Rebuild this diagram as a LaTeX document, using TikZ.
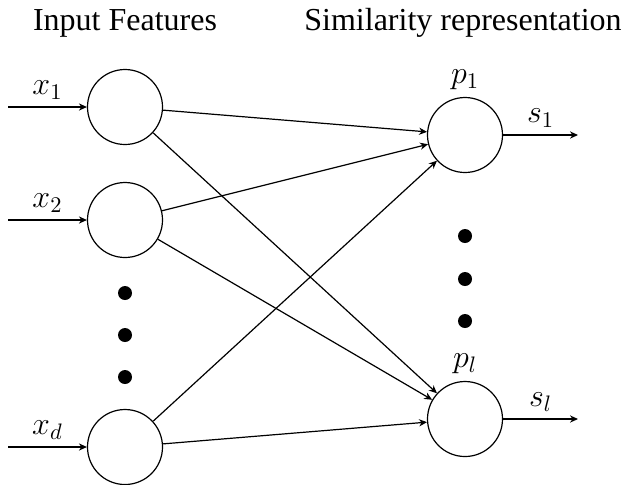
\documentclass[tikz,border=0pt]{standalone}
\usepackage{fix-cm}
\usepackage{fontspec}
\setmainfont{Liberation Serif}
\usetikzlibrary{arrows.meta}
\tikzset{
  neuron/.style={draw, circle, minimum size=37.5pt, inner sep=0pt, line width=0.6pt},
  conn/.style={line width=0.6pt, -{Stealth[length=4pt,width=3.6pt]}},
  bigdot/.style={fill=black, circle, minimum size=7pt, inner sep=0pt},
  title/.style={anchor=base, inner sep=0pt},
  lbl/.style={midway, above}
}
\begin{document}
\begin{tikzpicture}[x=0.5pt, y=-0.5pt, font=\fontsize{16}{19}\selectfont]
\useasboundingbox (0,0) rectangle (625,484);
% titles
\node[title] (t1) at (125,30) {Input Features};
\node[title] (t2) at (463,30) {Similarity representation};
% input neurons
\node[neuron] (x1) at (125,107) {};
\node[neuron] (x2) at (125,220) {};
\node[neuron] (xd) at (125,447) {};
% output neurons
\node[neuron] (p1) at (465,135) {};
\node[neuron] (pl) at (465,419) {};
\node[above] (lp1) at (p1.north) {$p_1$};
\node[above] (lpl) at (pl.north) {$p_l$};
% dots
\node[bigdot] (d1) at (125,293) {};
\node[bigdot] (d2) at (125,335) {};
\node[bigdot] (d3) at (125,377) {};
\node[bigdot] (e1) at (465,236) {};
\node[bigdot] (e2) at (465,279) {};
\node[bigdot] (e3) at (465,321) {};
% input arrows
\coordinate (i1) at (8,107);
\coordinate (i2) at (8,220);
\coordinate (id) at (8,447);
\draw[conn] (i1) -- (x1) node[lbl] {$x_1$};
\draw[conn] (i2) -- (x2) node[lbl] {$x_2$};
\draw[conn] (id) -- (xd) node[lbl] {$x_d$};
% output arrows
\coordinate (o1) at (578,135);
\coordinate (ol) at (578,419);
\draw[conn] (p1) -- (o1) node[lbl] {$s_1$};
\draw[conn] (pl) -- (ol) node[lbl] {$s_l$};
% connections
\foreach \a in {x1,x2,xd}{
  \draw[conn] (\a) -- (p1);
  \draw[conn] (\a) -- (pl);
}
\end{tikzpicture}
\end{document}
